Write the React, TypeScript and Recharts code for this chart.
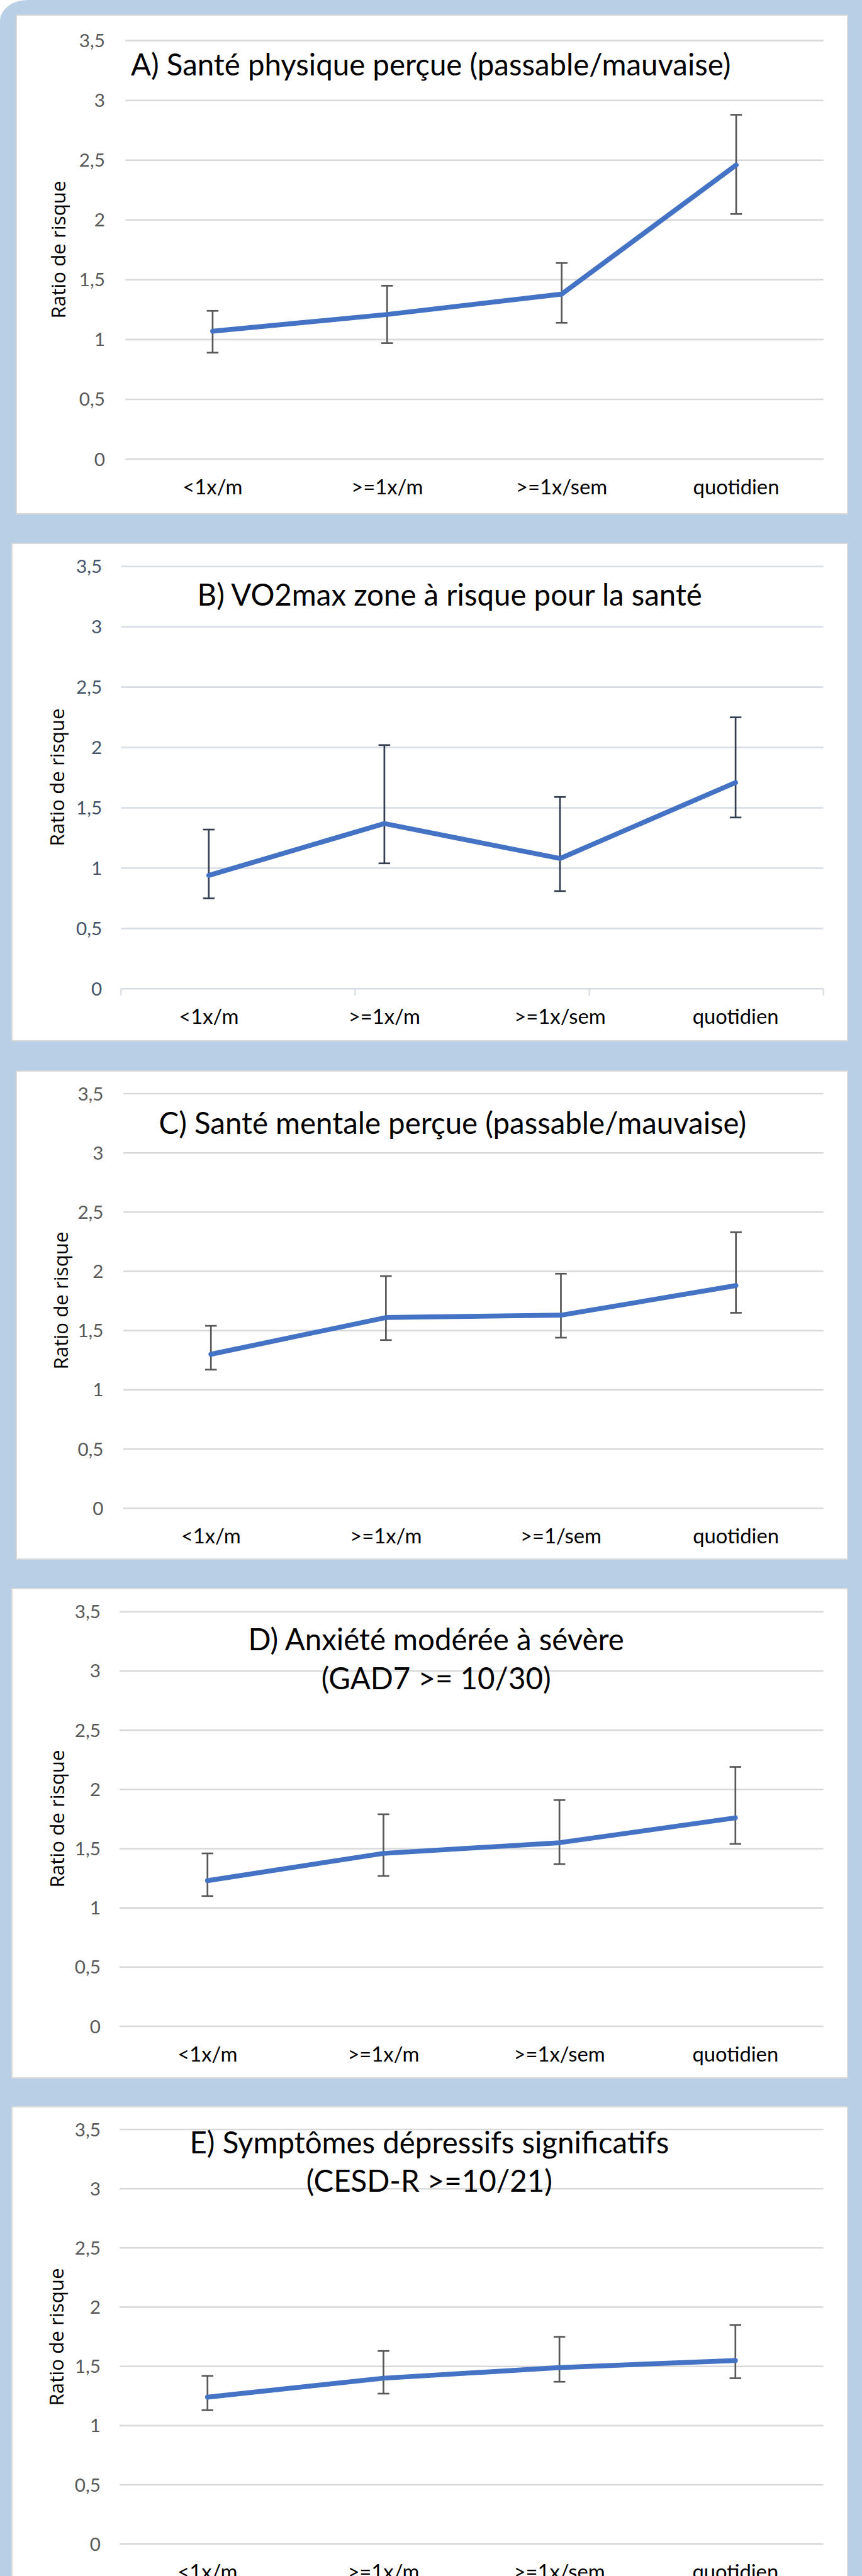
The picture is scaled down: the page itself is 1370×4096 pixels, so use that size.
import React from 'react';
import { LineChart, Line, XAxis, YAxis, CartesianGrid, ErrorBar, ReferenceLine } from 'recharts';

// everything below is measured on the 1777px-wide reference, then scaled
const S = 0.771;
const px = (v: number) => v * S;

const CATEGORIES = ['<1x/m', '>=1x/m', '>=1x/sem', 'quotidien'];
const CATEGORIES_C = ['<1x/m', '>=1x/m', '>=1/sem', 'quotidien'];
const Y_TICKS = [0, 0.5, 1, 1.5, 2, 2.5, 3, 3.5];
const EDGE_TICKS = [0, 1, 2, 3, 4];
const Y_LABEL = 'Ratio de risque';

// A) Santé physique perçue
const A_TITLE = ['A) Santé physique perçue (passable/mauvaise)'];
const A_RR = [1.07, 1.21, 1.38, 2.46];
const A_LOW = [0.89, 0.97, 1.14, 2.05];
const A_HIGH = [1.24, 1.45, 1.64, 2.88];

// B) VO2max
const B_TITLE = ['B) VO2max zone à risque pour la santé'];
const B_RR = [0.94, 1.37, 1.08, 1.71];
const B_LOW = [0.75, 1.04, 0.81, 1.42];
const B_HIGH = [1.32, 2.02, 1.59, 2.25];

// C) Santé mentale perçue
const C_TITLE = ['C) Santé mentale perçue (passable/mauvaise)'];
const C_RR = [1.3, 1.61, 1.63, 1.88];
const C_LOW = [1.17, 1.42, 1.44, 1.65];
const C_HIGH = [1.54, 1.96, 1.98, 2.33];

// D) Anxiété
const D_TITLE = ['D) Anxiété modérée à sévère', '(GAD7 >= 10/30)'];
const D_RR = [1.23, 1.46, 1.55, 1.76];
const D_LOW = [1.1, 1.27, 1.37, 1.54];
const D_HIGH = [1.46, 1.79, 1.91, 2.19];

// E) Symptômes dépressifs
const E_TITLE = ['E) Symptômes dépressifs significatifs', '(CESD-R >=10/21)'];
const E_RR = [1.24, 1.4, 1.49, 1.55];
const E_LOW = [1.13, 1.27, 1.37, 1.4];
const E_HIGH = [1.42, 1.63, 1.75, 1.85];

const GRAY = { tick: '#595959', grid: '#D9D9D9', err: '#595959', edges: false };
const SLATE = { tick: '#44546A', grid: '#D9DEE6', err: '#333F50', edges: true };

const PANELS = [
  { cats: CATEGORIES, rr: A_RR, low: A_LOW, high: A_HIGH, title: A_TITLE, theme: GRAY,
    box: [32, 30, 1749, 1061], gridL: 258, gridTop: 84, gridZero: 947, tickRight: 216,
    titleX: 888, titleY: [134], labelBase: 137 },
  { cats: CATEGORIES, rr: B_RR, low: B_LOW, high: B_HIGH, title: B_TITLE, theme: SLATE,
    box: [23, 1119, 1749, 2148], gridL: 249, gridTop: 1168, gridZero: 2039, tickRight: 210,
    titleX: 927, titleY: [1227], labelBase: 134 },
  { cats: CATEGORIES_C, rr: C_RR, low: C_LOW, high: C_HIGH, title: C_TITLE, theme: GRAY,
    box: [32, 2207, 1749, 3216], gridL: 254, gridTop: 2255, gridZero: 3110, tickRight: 213,
    titleX: 933, titleY: [2317], labelBase: 141 },
  { cats: CATEGORIES, rr: D_RR, low: D_LOW, high: D_HIGH, title: D_TITLE, theme: GRAY,
    box: [23, 3275, 1749, 4287], gridL: 246, gridTop: 3324, gridZero: 4179, tickRight: 207,
    titleX: 899, titleY: [3381, 3462], labelBase: 134 },
  { cats: CATEGORIES, rr: E_RR, low: E_LOW, high: E_HIGH, title: E_TITLE, theme: GRAY,
    box: [23, 4344, 1749, 5357], gridL: 246, gridTop: 4392, gridZero: 5247, tickRight: 207,
    titleX: 885, titleY: [4419, 4498], labelBase: 132 },
];

const PLOT_RIGHT = 1697;
const TICK_FS = px(38.5);
const CAT_FS = px(42.5);
const TITLE_FS = px(61.5);
const LABEL_FS = px(40.6);

type PanelDef = (typeof PANELS)[number];

function EdgeTick(props: any) {
  const y = Math.max(props.y1, props.y2);
  return (
    <line x1={props.x1} x2={props.x1} y1={y} y2={y + px(14)} stroke={props.color} strokeWidth={px(3)} />
  );
}

function Panel({ p }: { p: PanelDef }) {
  const [l, t, r, b] = p.box;
  const data = p.cats.map((cat, i) => ({
    cat,
    rr: p.rr[i],
    err: [p.rr[i] - p.low[i], p.high[i] - p.rr[i]],
  }));
  const th = p.theme;

  return (
    <>
      <div
        style={{
          position: 'absolute',
          left: px(l),
          top: px(t),
          width: px(r - l),
          height: px(b - t),
          background: '#fff',
          boxShadow: `inset 0 0 0 ${px(2.5)}px #D9D9D9`,
        }}
      >
        <LineChart
          width={px(r - l)}
          height={px(b - t)}
          data={data}
          margin={{ top: px(p.gridTop - t), right: px(r - PLOT_RIGHT), bottom: 0, left: 0 }}
        >
          <CartesianGrid vertical={false} stroke={th.grid} strokeWidth={px(3.3)} />
          <XAxis
            dataKey="cat"
            scale="band"
            height={px(b - p.gridZero)}
            axisLine={false}
            tickLine={false}
            tickSize={0}
            tickMargin={px(42)}
            interval={0}
            tick={{ fill: '#000', fontSize: CAT_FS, fontFamily: 'Lato' }}
          />
          <XAxis xAxisId="edge" type="number" domain={[0, 4]} hide />
          <YAxis
            domain={[0, 3.5]}
            ticks={Y_TICKS}
            interval={0}
            width={px(p.gridL - l)}
            axisLine={false}
            tickLine={false}
            tickSize={0}
            tickMargin={px(p.gridL - p.tickRight)}
            tickFormatter={(v) => String(v).replace('.', ',')}
            tick={{ fill: th.tick, fontSize: TICK_FS, fontFamily: 'Lato' }}
          />
          {th.edges &&
            EDGE_TICKS.map((x) => (
              <ReferenceLine
                key={x}
                xAxisId="edge"
                x={x}
                shape={(sp: any) => <EdgeTick {...sp} color={th.grid} />}
              />
            ))}
          {/* error bars first so the blue line sits on top of them */}
          <Line dataKey="rr" stroke="none" dot={false} activeDot={false} isAnimationActive={false}>
            <ErrorBar
              dataKey="err"
              direction="y"
              width={px(12)}
              stroke={th.err}
              strokeWidth={px(3.5)}
              isAnimationActive={false}
            />
          </Line>
          <Line
            dataKey="rr"
            stroke="#4472C4"
            strokeWidth={px(10)}
            strokeLinecap="round"
            strokeLinejoin="round"
            dot={false}
            activeDot={false}
            isAnimationActive={false}
          />
        </LineChart>
      </div>
      {p.title.map((line, i) => (
        <div
          key={i}
          style={{
            position: 'absolute',
            left: px(p.titleX),
            top: px(p.titleY[i]) - 0.528 * TITLE_FS,
            transform: 'translateX(-50%)',
            whiteSpace: 'nowrap',
            fontFamily: 'Lato',
            fontSize: TITLE_FS,
            lineHeight: `${TITLE_FS}px`,
            color: '#000',
          }}
        >
          {line}
        </div>
      ))}
      <div
        style={{
          position: 'absolute',
          left: px(p.labelBase) - 0.388 * LABEL_FS,
          top: px((p.gridTop + p.gridZero) / 2),
          transform: 'translate(-50%, -50%) rotate(-90deg)',
          whiteSpace: 'nowrap',
          fontFamily: '"Open Sans"',
          fontSize: LABEL_FS,
          lineHeight: `${LABEL_FS}px`,
          color: '#000',
        }}
      >
        {Y_LABEL}
      </div>
    </>
  );
}

export default function App() {
  return (
    <div
      style={{
        position: 'absolute',
        left: 0,
        top: 0,
        width: 1370,
        height: 4096,
        overflow: 'hidden',
        background: '#fff',
      }}
    >
      <div
        style={{
          position: 'absolute',
          inset: 0,
          background: '#B8CFE6',
          borderTopLeftRadius: `${px(57)}px ${px(43)}px`,
        }}
      />
      {PANELS.map((p, i) => (
        <Panel key={i} p={p} />
      ))}
    </div>
  );
}
